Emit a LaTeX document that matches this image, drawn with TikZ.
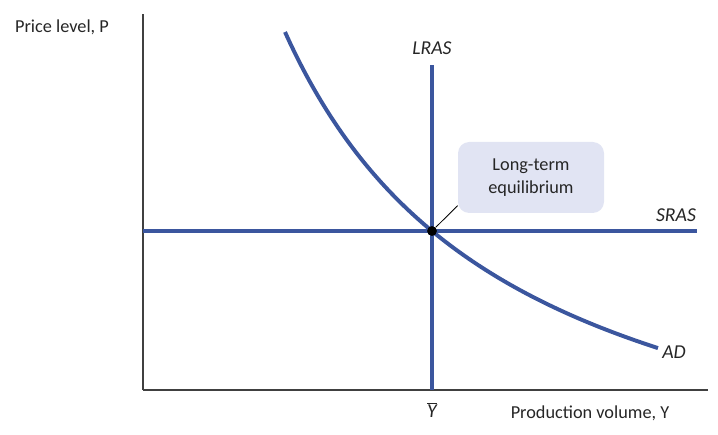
\documentclass[tikz,border=0pt]{standalone}
\usepackage{fontspec}
\setmainfont{Carlito}
\usepackage{tikz}
\usetikzlibrary{
  calc,        % 坐标计算
  positioning  % 节点相对定位
}
\definecolor{curveblue}{RGB}{59,86,158}
\definecolor{boxfill}{RGB}{225,228,243}
\definecolor{axisgray}{RGB}{64,64,64}
\tikzset{
  axis line/.style={
    line width=1.4pt,
    color=axisgray
  },
  econ curve/.style={
    line width=2.8pt,
    color=curveblue
  },
  curve label/.style={
    font=\fontsize{14}{16}\selectfont\itshape,
    text=black!85
  },
  axis label/.style={
    font=\fontsize{13}{15}\selectfont,
    text=black!85
  },
  note box/.style={
    rounded corners=8pt,
    fill=boxfill,
    align=center,
    minimum width=3.65cm,
    minimum height=1.775cm,
    font=\fontsize{13}{16}\selectfont,
    text=black!85
  },
  eq dot/.style={
    circle,
    fill=black,
    inner sep=0pt,
    minimum size=7pt
  }
}

\begin{document}
\begin{tikzpicture}
    \useasboundingbox (0,0) rectangle (17.95,10.85);

    % 1. 坐标轴
    \coordinate (O) at (3.575,1.1);
    \draw[axis line] (O) -- (3.575,10.5);
    \draw[axis line] (O) -- (17.7,1.1);
    \node[axis label] (plabel) at (1.55,10.175) {Price level, P};
    \node[axis label] (ylabel) at (14.75,0.525) {Production volume, Y};

    % 2. 短期总供给 SRAS (水平线)
    \draw[econ curve] (O |- 0,5.075) -- (17.425,5.075);
    \node[curve label] (sras) at (16.9,5.475) {SRAS};

    % 3. 长期总供给 LRAS (竖直线), 在 Ybar 处
    \draw[econ curve] (10.8,1.1) -- (10.8,9.225);
    \node[curve label] (lras) at (10.8,9.65) {LRAS};
    \node[curve label] (ybar) at (10.8,0.6) {$\overline{\mbox{\itshape Y}}$};

    % 4. 总需求 AD: P = -2.75 + 73.98/(Y - 1.345)
    \draw[econ curve] plot[domain=7.125:16.45, samples=80, smooth]
      (\x, {-2.75 + 73.98/(\x - 1.345)});
    \node[curve label] (ad) at (16.85,2.05) {AD};

    % 5. 长期均衡点与说明框
    \node[eq dot] (eq) at (10.8,5.075) {};
    \node[note box] (box) at (13.275,6.4125) {Long-term\\equilibrium};
    \draw[black, line width=0.6pt] (eq) -- (box.-159);

  \end{tikzpicture}
\end{document}
